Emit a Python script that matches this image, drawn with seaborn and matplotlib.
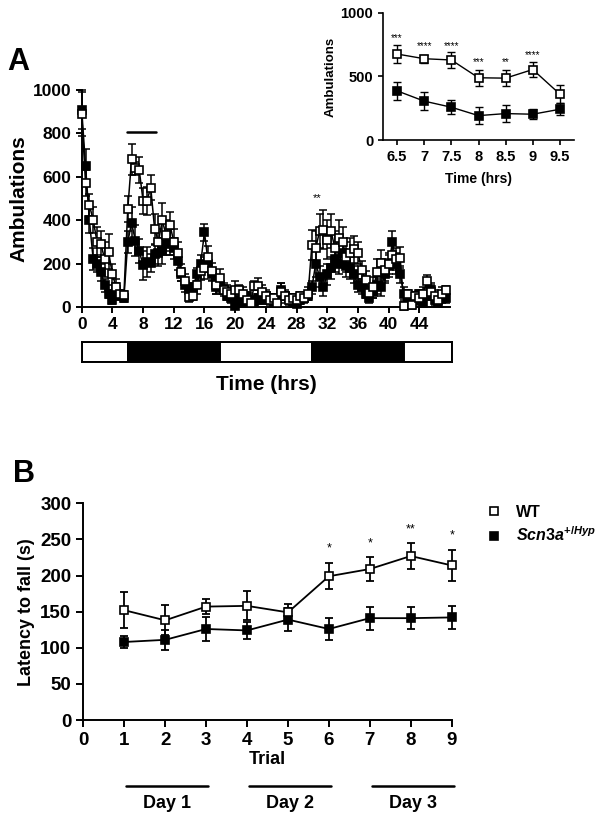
import numpy as np
import matplotlib
matplotlib.use('Agg')
import matplotlib.pyplot as plt
from matplotlib.lines import Line2D
import seaborn as sns

# ---------------- data ----------------
# Panel A: 30-min bins over 48 h
hours = np.arange(0, 48, 0.5)
wt_amb = [890, 570, 470, 400, 300, 290, 220, 255, 150, 90, 60, 55,
          450, 680, 640, 630, 490, 490, 550, 360, 300, 400, 330, 380,
          300, 250, 160, 120, 45, 50, 100, 165, 180, 230, 165, 100,
          135, 80, 70, 60, 80, 80, 60, 30, 20, 98, 95, 70,
          50, 30, 40, 20, 70, 50, 30, 40, 30, 50, 40, 60,
          285, 270, 350, 355, 310, 350, 270, 320, 300, 230, 250, 265,
          250, 170, 126, 65, 90, 160, 204, 172, 200, 240, 220, 228,
          5, 60, 10, 50, 40, 60, 118, 70, 50, 30, 60, 79]
wt_sem = [100, 60, 50, 60, 70, 60, 80, 80, 50, 40, 20, 20,
          60, 70, 30, 60, 60, 65, 58, 70, 60, 80, 70, 60,
          60, 50, 40, 30, 20, 20, 40, 40, 50, 50, 40, 40,
          40, 30, 30, 30, 40, 20, 30, 20, 20, 20, 40, 30,
          30, 20, 20, 20, 40, 30, 20, 20, 20, 20, 20, 30,
          70, 80, 80, 90, 90, 80, 80, 80, 70, 70, 70, 60,
          50, 40, 40, 30, 50, 60, 60, 50, 50, 60, 50, 50,
          20, 20, 20, 20, 30, 30, 30, 30, 30, 20, 30, 20]
hyp_amb = [910, 650, 400, 220, 200, 160, 100, 60, 30, 80, 50, 40,
           300, 387, 306, 258, 192, 208, 203, 242, 250, 260, 290, 300,
           270, 210, 150, 100, 80, 90, 150, 200, 344, 200, 150, 90,
           100, 80, 50, 40, 5, 30, 20, 50, 30, 20, 40, 30,
           50, 40, 20, 30, 80, 50, 40, 20, 15, 30, 40, 50,
           90, 200, 140, 90, 150, 180, 220, 200, 250, 190, 180, 150,
           100, 90, 60, 40, 70, 100, 90, 150, 190, 300, 200, 150,
           60, 30, 40, 30, 60, 20, 50, 80, 30, 20, 40, 40]
hyp_sem = [90, 80, 60, 50, 40, 40, 30, 20, 15, 30, 20, 15,
           50, 72, 72, 57, 66, 70, 40, 46, 60, 60, 50, 60,
           50, 40, 30, 30, 20, 20, 30, 40, 40, 40, 30, 30,
           30, 20, 20, 20, 10, 20, 15, 20, 15, 15, 20, 15,
           20, 20, 15, 15, 30, 20, 20, 15, 10, 15, 15, 20,
           30, 60, 50, 40, 50, 50, 60, 50, 60, 50, 50, 40,
           30, 30, 20, 20, 30, 40, 40, 40, 50, 50, 50, 40,
           30, 20, 20, 15, 20, 15, 20, 30, 20, 15, 20, 20]

# light / dark phases
ld_start = [0, 6, 18, 30, 42]
ld_end = [6, 18, 30, 42, 48.3]
ld_phase = ['light', 'dark', 'light', 'dark', 'light']

# inset (6.5 - 9.5 h)
inset_hours = [6.5, 7, 7.5, 8, 8.5, 9, 9.5]
inset_wt = [677, 640, 630, 490, 487, 555, 361]
inset_wt_sem = [70, 30, 60, 63, 65, 58, 70]
inset_hyp = [387, 306, 258, 192, 208, 203, 242]
inset_hyp_sem = [72, 72, 57, 66, 70, 40, 46]
inset_stars = ['***', '****', '****', '***', '**', '****', '']
inset_star_y = [800, 743, 743, 616, 616, 672, 0]

# Panel B: rotarod
trials = [1, 2, 3, 4, 5, 6, 7, 8, 9]
wt_lat = [152, 138, 157, 158, 149, 199, 209, 227, 214]
wt_lat_sem = [25, 21, 10, 20, 12, 18, 17, 18, 22]
hyp_lat = [108, 111, 126, 124, 139, 126, 141, 141, 142]
hyp_lat_sem = [8, 14, 17, 12, 16, 15, 16, 15, 16]
b_stars = ['', '', '', '', '', '*', '*', '**', '*']
b_star_y = [0, 0, 0, 0, 0, 238, 245, 264, 255]
days = ['Day 1', 'Day 2', 'Day 3']
day_start = [1.05, 4.05, 7.05]
day_end = [3.05, 6.05, 9.05]

# ---------------- style ----------------
sns.set_theme(style='ticks')
plt.rcParams['font.family'] = ['Liberation Sans', 'DejaVu Sans']
plt.rcParams['font.weight'] = 'bold'
plt.rcParams['axes.labelweight'] = 'bold'
plt.rcParams['axes.linewidth'] = 1.4
plt.rcParams['xtick.major.width'] = 1.4
plt.rcParams['ytick.major.width'] = 1.4
plt.rcParams['xtick.major.size'] = 4
plt.rcParams['ytick.major.size'] = 4
plt.rcParams['xtick.color'] = 'black'
plt.rcParams['ytick.color'] = 'black'
plt.rcParams['axes.edgecolor'] = 'black'
plt.rcParams['text.color'] = 'black'
plt.rcParams['axes.labelcolor'] = 'black'
plt.rcParams['mathtext.fontset'] = 'custom'
plt.rcParams['mathtext.it'] = 'Liberation Sans:italic:bold'
plt.rcParams['mathtext.rm'] = 'Liberation Sans:bold'

W, H = 604, 822
fig = plt.figure(figsize=(W / 100, H / 100), dpi=100)


def px(x0, y0, x1, y1):
    # pixel box (left, top, right, bottom) -> figure fraction
    return [x0 / W, 1 - y1 / H, (x1 - x0) / W, (y1 - y0) / H]


def draw_series(ax, x, y, err, filled, ms, z, lw=1.1):
    ax.errorbar(x, y, yerr=err, fmt='none', ecolor='black', elinewidth=lw,
                capsize=3, capthick=lw, zorder=z, clip_on=False)
    sns.lineplot(x=x, y=y, ax=ax, color='black', lw=lw, marker='s',
                 markersize=ms, markerfacecolor='black' if filled else 'white',
                 markeredgecolor='black', markeredgewidth=1.2,
                 zorder=z + 0.5, clip_on=False, errorbar=None, legend=False)


# ---------------- Panel A main ----------------
ax = fig.add_axes(px(81.7, 90, 450, 307))
draw_series(ax, hours, hyp_amb, hyp_sem, True, 5.8, 2)
draw_series(ax, hours, wt_amb, wt_sem, False, 5.8, 4)
ax.set_xlim(0, 48)
ax.set_ylim(0, 1000)
ax.set_xticks(range(0, 48, 4))
ax.set_yticks(range(0, 1001, 200))
ax.tick_params(labelsize=12.5)
for t in ax.get_xticklabels() + ax.get_yticklabels():
    t.set_fontweight('bold')
ax.set_xlabel('')
ax.set_ylabel('Ambulations', fontsize=15, fontweight='bold', labelpad=3)
ax.plot([5.9, 9.7], [808, 808], color='black', lw=1.8, clip_on=False)
ax.text(30.7, 500, '**', ha='center', va='center', fontsize=8, fontweight='normal')
sns.despine(ax=ax)

# light/dark bar
bax = fig.add_axes(px(81.7, 342, 452, 362))
for s, e, ph in zip(ld_start, ld_end, ld_phase):
    bax.axvspan(s, e, facecolor='black' if ph == 'dark' else 'white',
                edgecolor='black', lw=1.4)
bax.set_xlim(0, 48.3)
bax.set_ylim(0, 1)
bax.set_xticks([])
bax.set_yticks([])
fig.text(266 / W, 1 - 375 / H, 'Time (hrs)', ha='center', va='top',
         fontsize=15, fontweight='bold')

# ---------------- inset ----------------
iax = fig.add_axes(px(383, 13, 574, 140))
draw_series(iax, inset_hours, inset_hyp, inset_hyp_sem, True, 5.3, 2, lw=1.0)
draw_series(iax, inset_hours, inset_wt, inset_wt_sem, False, 5.3, 4, lw=1.0)
iax.set_xlim(6.24, 9.76)
iax.set_ylim(0, 1000)
iax.set_xticks(inset_hours)
iax.set_xticklabels(['6.5', '7', '7.5', '8', '8.5', '9', '9.5'])
iax.set_yticks([0, 500, 1000])
iax.tick_params(labelsize=10.5, width=1.2, length=3.5)
for t in iax.get_xticklabels() + iax.get_yticklabels():
    t.set_fontweight('bold')
for s in iax.spines.values():
    s.set_linewidth(1.2)
for xh, st, yy in zip(inset_hours, inset_stars, inset_star_y):
    if st:
        iax.text(xh, yy, st, ha='center', va='center', fontsize=7,
                 fontweight='normal')
iax.set_xlabel('Time (hrs)', fontsize=10, fontweight='bold')
iax.xaxis.set_label_coords(0.5, -0.25)
iax.set_ylabel('Ambulations', fontsize=9.5, fontweight='bold', labelpad=3)
sns.despine(ax=iax)

fig.text(7 / W, 1 - 70 / H, 'A', fontsize=22, fontweight='bold', va='baseline')

# ---------------- Panel B ----------------
bx = fig.add_axes(px(83.3, 503.3, 451.7, 720))
draw_series(bx, trials, hyp_lat, hyp_lat_sem, True, 6.2, 2, lw=1.3)
draw_series(bx, trials, wt_lat, wt_lat_sem, False, 6.2, 4, lw=1.3)
bx.set_xlim(0, 9)
bx.set_ylim(0, 300)
bx.set_xticks(range(0, 10))
bx.set_yticks(range(0, 301, 50))
bx.tick_params(labelsize=13.5, length=5)
for t in bx.get_xticklabels() + bx.get_yticklabels():
    t.set_fontweight('bold')
for tx, st, yy in zip(trials, b_stars, b_star_y):
    if st:
        bx.text(tx, yy, st, ha='center', va='center', fontsize=9,
                fontweight='normal')
bx.set_xlabel('Trial', fontsize=13, fontweight='bold')
bx.xaxis.set_label_coords(0.5, -0.145)
bx.set_ylabel('Latency to fall (s)', fontsize=13, fontweight='bold', labelpad=4)
for d, s, e in zip(days, day_start, day_end):
    bx.plot([s, e], [-91, -91], color='black', lw=1.8, clip_on=False)
    bx.text((s + e) / 2, -115, d, ha='center', va='center', fontsize=13,
            fontweight='bold')
sns.despine(ax=bx)

handles = [Line2D([], [], ls='none', marker='s', ms=6, mfc='white', mec='black', mew=1.2),
           Line2D([], [], ls='none', marker='s', ms=6, mfc='black', mec='black', mew=1.2)]
fig.legend(handles, ['WT', r'$Scn3a^{+/Hyp}$'], loc='upper left',
           bbox_to_anchor=(486 / W, 1 - 505 / H), frameon=False, fontsize=11.5,
           handlelength=1.0, handletextpad=0.9, labelspacing=0.35,
           borderaxespad=0, borderpad=0)

fig.text(13 / W, 1 - 482 / H, 'B', fontsize=22, fontweight='bold', va='baseline')

fig.savefig('out.png', dpi=100)
